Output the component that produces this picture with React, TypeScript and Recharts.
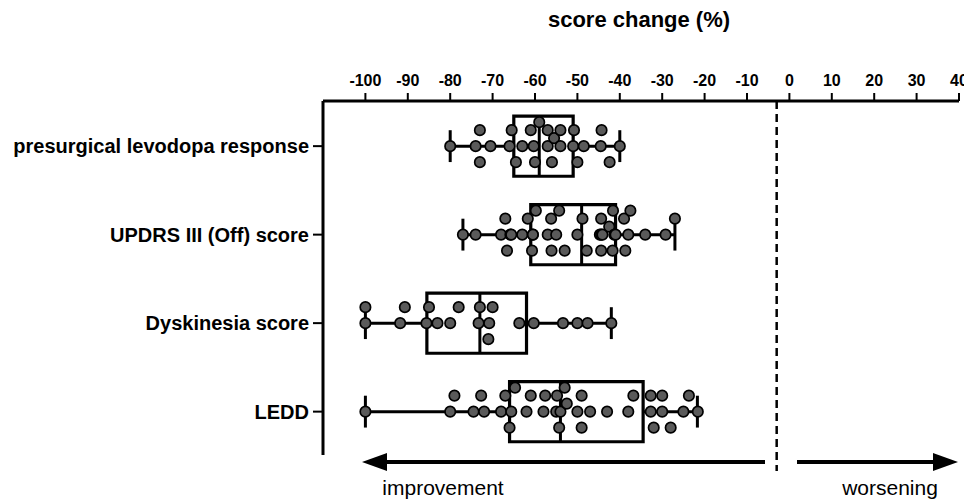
import React from "react";
import {
  ScatterChart,
  Scatter,
  XAxis,
  YAxis,
  ReferenceArea,
  ReferenceLine,
} from "recharts";

const categories = [
  "presurgical levodopa response",
  "UPDRS III (Off) score",
  "Dyskinesia score",
  "LEDD",
];

const xTicks = [-100, -90, -80, -70, -60, -50, -40, -30, -20, -10, 0, 10, 20, 30, 40];

// individual patients, % change
const levodopa = [
  -80, -74, -73, -73, -70.5, -66, -65.5, -64.5, -63, -61, -60.3, -60, -59, -57,
  -57, -56, -55.5, -54, -54, -51, -50.8, -50, -48.5, -44.5, -44.3, -42.4, -40,
];
const updrs = [
  -77, -74, -68, -67, -66.6, -65.8, -65.6, -63, -61.7, -60.7, -60.5, -60.5,
  -59.8, -57, -56.2, -56.1, -55, -54.3, -53, -50, -48.8, -47.8, -44.7, -44.4,
  -44.4, -44.4, -44.1, -42.5, -41.7, -41.6, -41.3, -41, -39, -38.7, -38, -37.5,
  -34, -29.2, -27,
];
const dyskinesia = [
  -100, -100, -91.8, -90.7, -85.6, -85, -83, -80, -78, -73.3, -73, -71, -70.8,
  -70, -63.7, -60.3, -53.4, -50, -47.6, -42,
];
const ledd = [
  -100, -80, -79, -74.5, -72.7, -72, -68, -67, -66, -65.6, -64.7, -62, -61, -58,
  -57.6, -55, -54.8, -54.3, -54, -53, -52.5, -50, -49, -49, -47, -43, -38,
  -36.8, -32.7, -32.7, -32, -30, -30, -28, -25, -23.7, -21.6,
];

// box plot summaries (min, q1, median, q3, max)
const boxMin = [-80, -77, -100, -100];
const boxQ1 = [-65, -61, -85.5, -66];
const boxMed = [-59, -49, -73, -54];
const boxQ3 = [-51, -41, -62, -34.5];
const boxMax = [-40, -27, -42, -21.7];

const groups = [levodopa, updrs, dyskinesia, ledd];

const X_DOMAIN: [number, number] = [-110, 40];
const Y_DOMAIN: [number, number] = [-0.51, 3.49];
const X_PX = 636 / 150;
const Y_PX = 354 / 4.0;
const OFFSETS = [0, -16, 16, -8, 8, -24, 24];
const DOT_GAP = 10;
const BOX_HALF = 0.34;
const CAP_HALF = 0.18;

// simple beeswarm: put each dot in the first lane where it does not collide
function swarm(values: number[], row: number) {
  const placed: { px: number; py: number }[] = [];
  return [...values]
    .sort((a, b) => a - b)
    .map((v) => {
      const px = v * X_PX;
      let off = 0;
      for (const o of OFFSETS) {
        if (placed.every((p) => Math.hypot(p.px - px, p.py - o) >= DOT_GAP)) {
          off = o;
          break;
        }
      }
      placed.push({ px, py: off });
      return { x: v, y: row + off / Y_PX };
    });
}

const Dot = (props: any) => (
  <circle
    cx={props.cx}
    cy={props.cy}
    r={5.2}
    fill="#5a5a5a"
    stroke="#000"
    strokeWidth={1.7}
  />
);

const line = { stroke: "#000", strokeWidth: 3 };

export default function App() {
  return (
    <div
      style={{
        position: "relative",
        width: 964,
        height: 491,
        fontFamily: '"Liberation Sans", Arial, sans-serif',
      }}
    >
      <ScatterChart
        width={964}
        height={491}
        margin={{ top: 53, right: 13, bottom: 44, left: 0 }}
        style={{ overflow: "visible" }}
      >
        <XAxis
          type="number"
          dataKey="x"
          orientation="top"
          domain={X_DOMAIN}
          ticks={xTicks}
          allowDataOverflow
          height={40}
          tickSize={8}
          tickMargin={7}
          axisLine={line}
          tickLine={{ stroke: "#000", strokeWidth: 2 }}
          tick={{ fontSize: 16, fontWeight: 700, fill: "#000" }}
        />
        <YAxis
          type="number"
          dataKey="y"
          domain={Y_DOMAIN}
          reversed
          ticks={[0, 1, 2, 3]}
          tickFormatter={(v: number) => categories[v]}
          width={315}
          tickSize={10}
          tickMargin={4}
          axisLine={line}
          tickLine={{ stroke: "#000", strokeWidth: 2 }}
          tick={{ fontSize: 20, fontWeight: 700, fill: "#000" }}
        />
        <ReferenceLine
          segment={[
            { x: -3, y: Y_DOMAIN[0] },
            { x: -3, y: 3.67 },
          ]}
          ifOverflow="visible"
          stroke="#000"
          strokeWidth={2.5}
          strokeDasharray="8 5"
        />
        {categories.map((c, i) => (
          <ReferenceArea
            key={`box-${c}`}
            x1={boxQ1[i]}
            x2={boxQ3[i]}
            y1={i - BOX_HALF}
            y2={i + BOX_HALF}
            fill="none"
            stroke="#000"
            strokeWidth={3.2}
            ifOverflow="visible"
          />
        ))}
        {categories.map((c, i) => [
          <ReferenceLine
            key={`med-${c}`}
            segment={[
              { x: boxMed[i], y: i - BOX_HALF },
              { x: boxMed[i], y: i + BOX_HALF },
            ]}
            {...line}
          />,
          <ReferenceLine
            key={`wl-${c}`}
            segment={[
              { x: boxMin[i], y: i },
              { x: boxQ1[i], y: i },
            ]}
            {...line}
          />,
          <ReferenceLine
            key={`wr-${c}`}
            segment={[
              { x: boxQ3[i], y: i },
              { x: boxMax[i], y: i },
            ]}
            {...line}
          />,
          <ReferenceLine
            key={`cl-${c}`}
            segment={[
              { x: boxMin[i], y: i - CAP_HALF },
              { x: boxMin[i], y: i + CAP_HALF },
            ]}
            {...line}
          />,
          <ReferenceLine
            key={`cr-${c}`}
            segment={[
              { x: boxMax[i], y: i - CAP_HALF },
              { x: boxMax[i], y: i + CAP_HALF },
            ]}
            {...line}
          />,
        ])}
        {groups.map((g, i) => (
          <Scatter
            key={`pts-${categories[i]}`}
            data={swarm(g, i)}
            shape={Dot}
            isAnimationActive={false}
          />
        ))}
      </ScatterChart>
      <svg
        width={964}
        height={491}
        style={{ position: "absolute", left: 0, top: 0, pointerEvents: "none" }}
      >
        <text
          x={631}
          y={19}
          textAnchor="middle"
          fontSize={22}
          fontWeight={700}
          fill="#000"
        >
          score change (%)
        </text>
        <line x1={757} y1={454} x2={370} y2={454} stroke="#000" strokeWidth={4} />
        <polygon points="354,454 379,445 379,463" fill="#000" />
        <line x1={789} y1={454} x2={932} y2={454} stroke="#000" strokeWidth={4} />
        <polygon points="950,454 925,445 925,463" fill="#000" />
        <text x={435} y={487} textAnchor="middle" fontSize={21} fill="#000">
          improvement
        </text>
        <text x={882} y={487} textAnchor="middle" fontSize={21} fill="#000">
          worsening
        </text>
      </svg>
    </div>
  );
}
